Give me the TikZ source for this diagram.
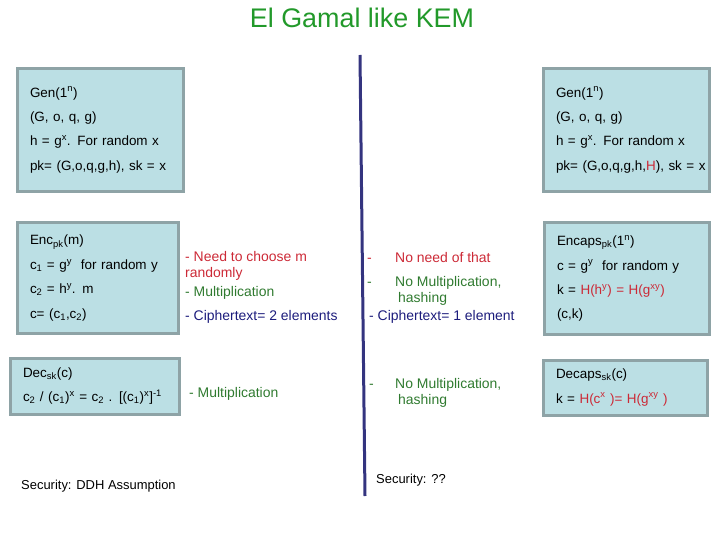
\documentclass[tikz,border=0pt]{standalone}
\usepackage{fontspec}
\setmainfont{Liberation Sans}
\usepackage{xcolor}
\definecolor{boxfill}{HTML}{BBDFE4}
\definecolor{boxline}{HTML}{8EA3A6}
\definecolor{kemred}{HTML}{CC2936}
\definecolor{kemgreen}{HTML}{2F7A2F}
\definecolor{kemnavy}{HTML}{1C1C7C}
\definecolor{titlegreen}{HTML}{22992A}
\definecolor{divline}{HTML}{34347F}

\begin{document}
\begin{tikzpicture}[x=1bp, y=-1bp,
    kembox/.style={draw=boxline, line width=3bp, fill=boxfill, anchor=north west,
                   align=left, inner xsep=13bp, inner ysep=2bp,
                   font=\fontsize{13.5}{24.5}\selectfont},
    note/.style={anchor=west, align=left, inner sep=0pt,
                 font=\fontsize{14}{16}\selectfont}]
    \useasboundingbox (0,0) rectangle (720,540);

    \node[font=\fontsize{27}{30}\selectfont, text=titlegreen] (title) at (362,18) {El Gamal like KEM};

    % divider
    \coordinate (divtop) at (360,55);
    \coordinate (divbot) at (365,496);
    \draw[divline, line width=3bp] (divtop) -- (divbot);

    % El Gamal side
    \node[kembox, text width=140bp, minimum height=122bp] (gen) at (15.5,67.5)
        {Gen(1\textsuperscript{n})\\(G, o, q, g)\\h = g\textsuperscript{x}. For random x\\pk= (G,o,q,g,h), sk = x};
    \node[kembox, text width=135bp, minimum height=110bp] (enc) at (15.5,221.5)
        {Enc\textsubscript{pk}(m)\\c\textsubscript{1} = g\textsuperscript{y}\ \ for random y\\c\textsubscript{2} = h\textsuperscript{y}. m\\c= (c\textsubscript{1},c\textsubscript{2})};
    \node[kembox, text width=143bp, minimum height=56bp] (dec) at (8.5,356.5)
        {Dec\textsubscript{sk}(c)\\\mbox{c\textsubscript{2} / (c\textsubscript{1})\textsuperscript{x} = c\textsubscript{2} . [(c\textsubscript{1})\textsuperscript{x}]\textsuperscript{-1}}};

    % KEM side
    \node[kembox, text width=140bp, minimum height=122bp] (genkem) at (541.5,67.5)
        {Gen(1\textsuperscript{n})\\(G, o, q, g)\\h = g\textsuperscript{x}. For random x\\\mbox{pk= (G,o,q,g,h,\textcolor{kemred}{H}), sk = x}};
    \node[kembox, text width=139bp, minimum height=111bp] (encaps) at (542.5,221.5)
        {Encaps\textsubscript{pk}(1\textsuperscript{n})\\c = g\textsuperscript{y}\ \ for random y\\k = \textcolor{kemred}{H(h\textsuperscript{y}) = H(g\textsuperscript{xy})}\\(c,k)};
    \node[kembox, text width=138bp, minimum height=55bp] (decaps) at (541.5,358.5)
        {Decaps\textsubscript{sk}(c)\\k = \textcolor{kemred}{H(c\textsuperscript{x} )= H(g\textsuperscript{xy} )}};

    % remarks
    \node[note, text=kemred]   (needm)  at (185,265.5) {- Need to choose m\\randomly};
    \node[note, text=kemgreen] (mult)   at (185,293)   {- Multiplication};
    \node[note, text=kemnavy]  (twoel)  at (185,317)   {- Ciphertext= 2 elements};
    \node[note, text=kemgreen] (decmult) at (189,394)  {- Multiplication};

    \node[note, text=kemred]   (noneed) at (367,258)   {\makebox[28bp][l]{-}No need of that};
    \node[note, text=kemgreen] (nomult) at (367,291)   {\makebox[28bp][l]{-}No Multiplication,\\\hspace*{31bp}hashing};
    \node[note, text=kemnavy]  (oneel)  at (369,317)   {- Ciphertext= 1 element};
    \node[note, text=kemgreen] (nohash) at (369,392.5) {\makebox[26bp][l]{-}No Multiplication,\\\hspace*{29bp}hashing};

    \node[note, font=\fontsize{13}{15}\selectfont] (secl) at (21,486)  {Security: DDH Assumption};
    \node[note, font=\fontsize{13}{15}\selectfont] (secr) at (376,480) {Security: ??};
\end{tikzpicture}
\end{document}
